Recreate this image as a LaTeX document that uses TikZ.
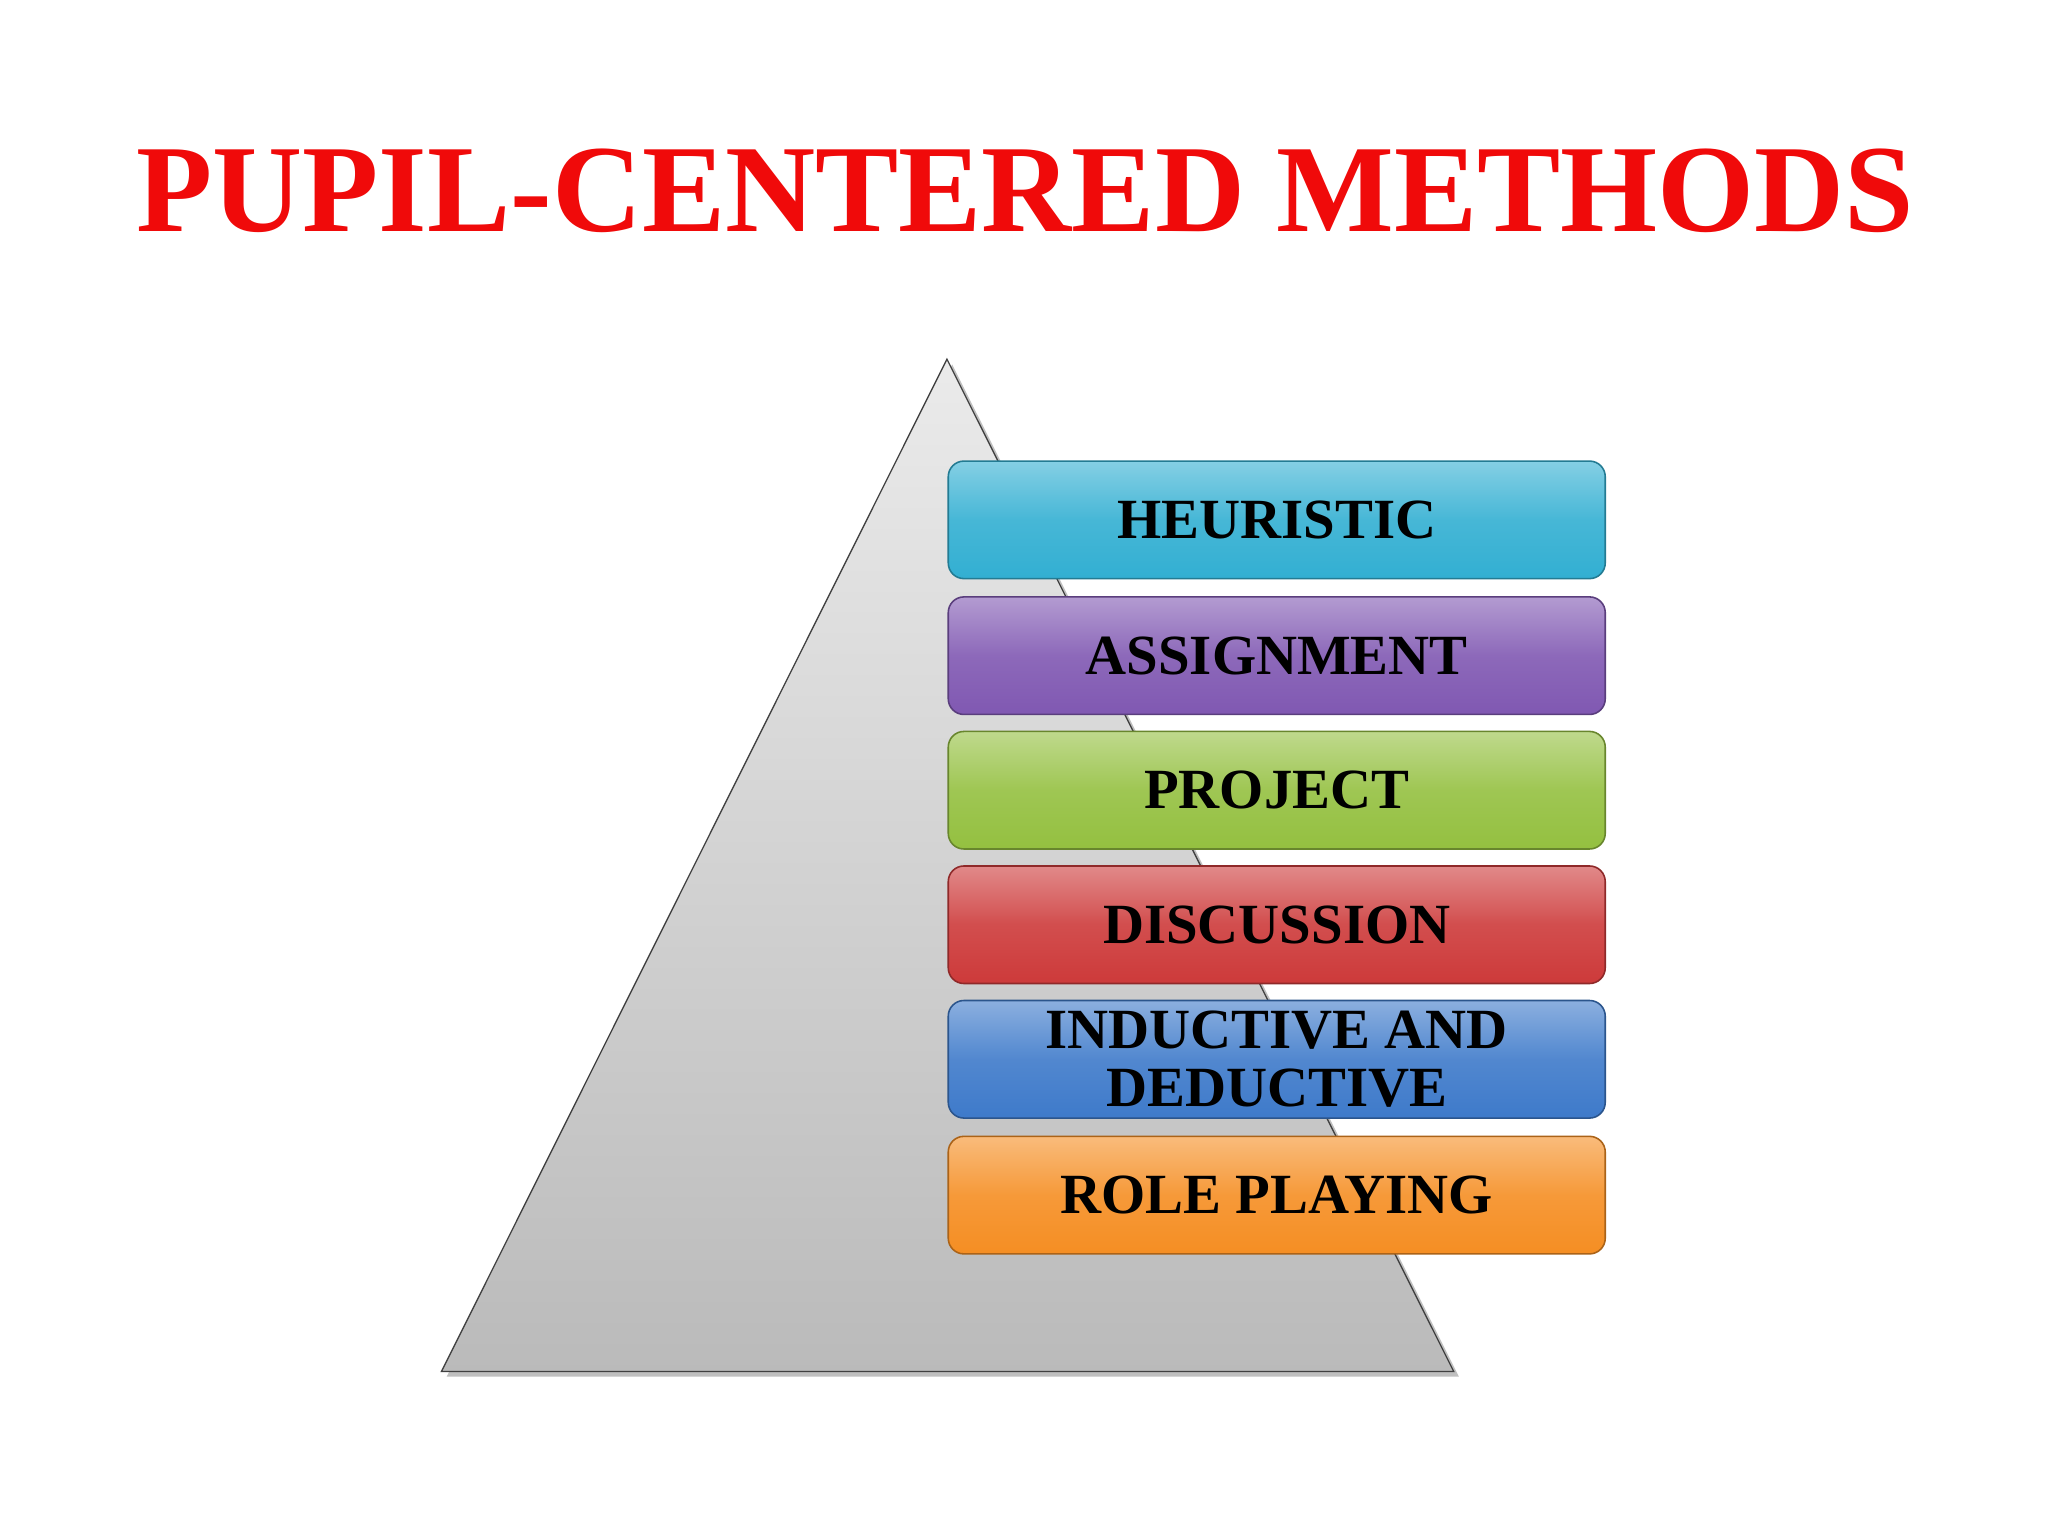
\documentclass[tikz,border=0pt]{standalone}
\usepackage{fontspec}
\setmainfont{Liberation Serif}
\begin{document}
\begin{tikzpicture}[x=1pt,y=-1pt,
 pbox/.style={rounded corners=12pt,minimum width=503pt,minimum height=90pt,inner sep=0pt,font=\fontsize{43.5}{44}\selectfont\bfseries,align=center,draw=#1!70!black,line width=1.2pt,top color=#1!60!white,bottom color=#1,middle color=#1!90!white},
 ]
\definecolor{cA}{RGB}{50,175,210}
\definecolor{cB}{RGB}{128,88,178}
\definecolor{cC}{RGB}{148,192,64}
\definecolor{cD}{RGB}{205,58,58}
\definecolor{cE}{RGB}{62,122,202}
\definecolor{cF}{RGB}{245,142,35}
\definecolor{tred}{RGB}{240,10,10}
\useasboundingbox (0,0) rectangle (1568,1176);
\fill[white] (0,0) rectangle (1568,1176);
\node[text=tred,font=\fontsize{95.5}{105}\selectfont\bfseries] (title) at (785,146) {PUPIL-CENTERED METHODS};
\fill[black!25] (342,1054) -- (729,279) -- (1117,1054) -- cycle;
\shade[top color=black!8,bottom color=black!27,draw=black!75,line width=1pt] (338,1050) -- (725,275) -- (1113,1050) -- cycle;
\node[pbox=cA] (h) at (977.5,398) {HEURISTIC};
\node[pbox=cB] (a) at (977.5,502) {ASSIGNMENT};
\node[pbox=cC] (p) at (977.5,605) {PROJECT};
\node[pbox=cD] (d) at (977.5,708) {DISCUSSION};
\node[pbox=cE] (i) at (977.5,811) {INDUCTIVE AND\\DEDUCTIVE};
\node[pbox=cF] (r) at (977.5,915) {ROLE PLAYING};
\end{tikzpicture}
\end{document}
